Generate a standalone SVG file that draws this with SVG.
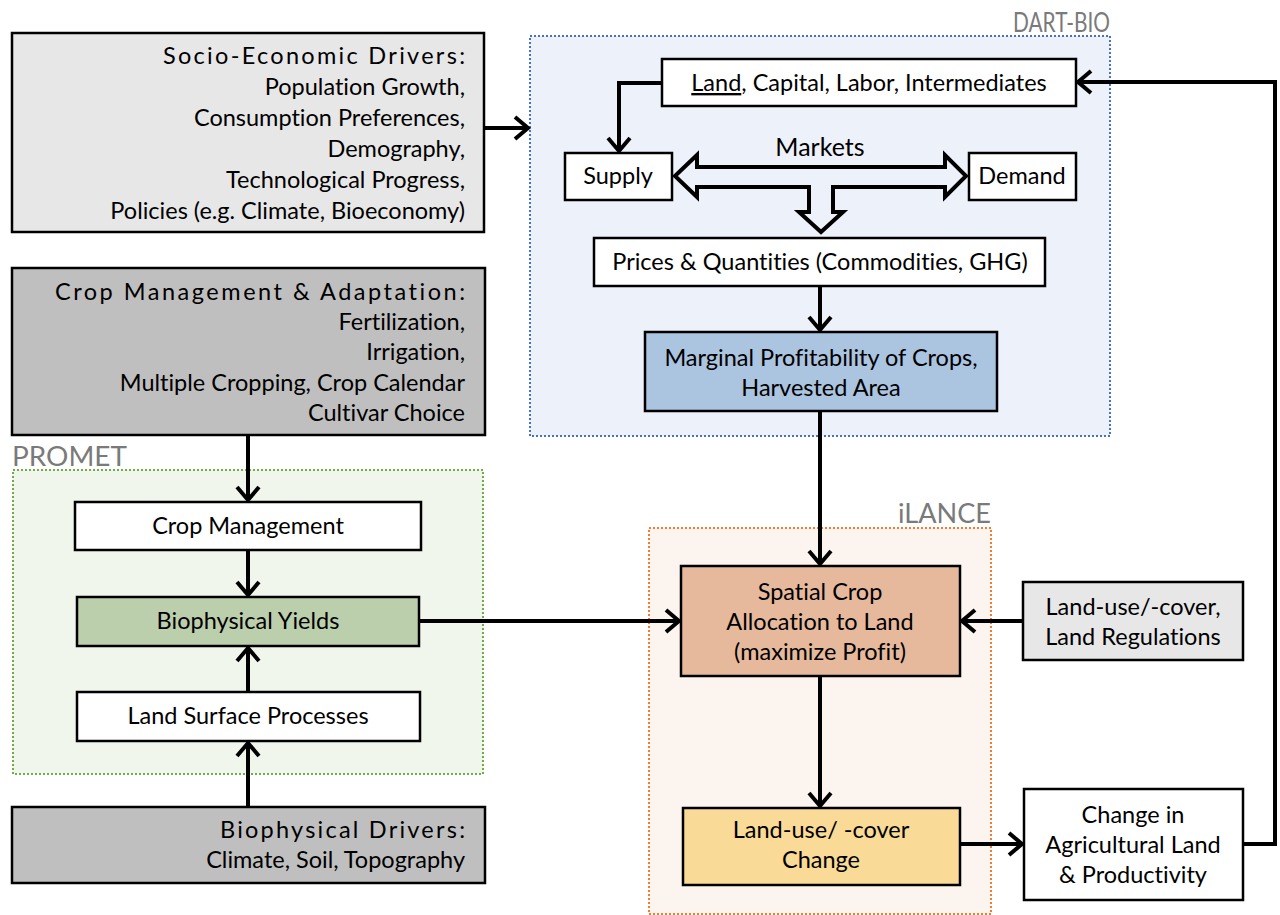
<svg xmlns="http://www.w3.org/2000/svg" width="1280" height="915" viewBox="0 0 1280 915">
<defs>
<style>
text{font-family:Lato,"Liberation Sans",sans-serif;font-size:23.5px;fill:#000;font-variant-ligatures:none;font-feature-settings:"liga" 0,"clig" 0}
.c{text-anchor:middle}
.r{text-anchor:end}
.lbl{font-size:27px;fill:#7a7a7a}
.box{stroke:#000;stroke-width:2.5}
.cont{stroke-width:2;stroke-dasharray:2 2}
.con{fill:none;stroke:#000;stroke-width:4;marker-end:url(#ah)}
</style>
<marker id="ah" markerUnits="userSpaceOnUse" markerWidth="30" markerHeight="30" viewBox="-18 -15 22 30" refX="0" refY="0" orient="auto" overflow="visible">
<path d="M-13,-11 L0,0 L-13,11" fill="none" stroke="#000" stroke-width="4"/>
</marker>
</defs>
<rect width="1280" height="915" fill="#fff"/>

<g id="dartbio">
<rect x="530" y="36" width="580" height="400" fill="#edf1f9" stroke="#4472c4" class="cont"/>
<text class="lbl" x="1013" y="32" textLength="97" lengthAdjust="spacingAndGlyphs">DART-BIO</text>
</g>
<g id="promet">
<rect x="13" y="470" width="470" height="304" fill="#f1f6ed" stroke="#70ad47" class="cont"/>
<text class="lbl" x="12" y="466" textLength="115" lengthAdjust="spacingAndGlyphs">PROMET</text>
</g>
<g id="ilance">
<rect x="649" y="528" width="342" height="386" fill="#fcf4ef" stroke="#ed7d31" class="cont"/>
<text class="lbl" x="898" y="523" textLength="93" lengthAdjust="spacingAndGlyphs">iLANCE</text>
</g>

<g id="socio">
<rect class="box" x="12" y="33" width="472" height="199" fill="#e7e7e7"/>
<text x="163" y="64" textLength="302" lengthAdjust="spacing">Socio-Economic Drivers:</text>
<text class="r" x="465" y="95">Population Growth,</text>
<text class="r" x="465" y="126">Consumption Preferences,</text>
<text class="r" x="465" y="157">Demography,</text>
<text class="r" x="465" y="188">Technological Progress,</text>
<text class="r" x="465" y="219">Policies (e.g. Climate, Bioeconomy)</text>
</g>

<g id="cropadapt">
<rect class="box" x="12" y="268" width="473" height="167" fill="#bfbfbf"/>
<text x="55" y="300" textLength="410" lengthAdjust="spacing">Crop Management &amp; Adaptation:</text>
<text class="r" x="465" y="330">Fertilization,</text>
<text class="r" x="465" y="360">Irrigation,</text>
<text class="r" x="465" y="391">Multiple Cropping, Crop Calendar</text>
<text class="r" x="465" y="421">Cultivar Choice</text>
</g>

<g id="cropmgmt">
<rect class="box" x="75" y="502" width="346" height="48" fill="#fff"/>
<text class="c" x="248" y="534">Crop Management</text>
</g>
<g id="yields">
<rect class="box" x="77" y="597" width="342" height="49" fill="#bccfad"/>
<text class="c" x="248" y="629">Biophysical Yields</text>
</g>
<g id="landsurface">
<rect class="box" x="77" y="692" width="343" height="49" fill="#fff"/>
<text class="c" x="248" y="724">Land Surface Processes</text>
</g>
<g id="biodrivers">
<rect class="box" x="12" y="807" width="473" height="76" fill="#bfbfbf"/>
<text x="220" y="838" textLength="245" lengthAdjust="spacing">Biophysical Drivers:</text>
<text class="r" x="465" y="868">Climate, Soil, Topography</text>
</g>

<g id="factors">
<rect class="box" x="662" y="59" width="414" height="47" fill="#fff"/>
<text class="c" x="869" y="91"><tspan text-decoration="underline">Land</tspan>, Capital, Labor, Intermediates</text>
</g>
<g id="supply">
<rect class="box" x="565" y="153" width="107" height="47" fill="#fff"/>
<text class="c" x="618" y="184">Supply</text>
</g>
<g id="demand">
<rect class="box" x="969" y="153" width="107" height="47" fill="#fff"/>
<text class="c" x="1022" y="184">Demand</text>
</g>
<g id="markets">
<text class="c" x="820" y="156" style="font-size:25px">Markets</text>
<polygon points="675,176 697,155 697,167 945,167 945,155 966,176 945,197 945,187 833,187 833,212 843,212 821,232 799,212 809,212 809,187 697,187 697,197" fill="#edf1f9" stroke="#000" stroke-width="4" stroke-linejoin="miter"/>
</g>
<g id="prices">
<rect class="box" x="594" y="238" width="451" height="48" fill="#fff"/>
<text class="c" x="820" y="270">Prices &amp; Quantities (Commodities, GHG)</text>
</g>
<g id="marginal">
<rect class="box" x="645" y="332" width="352" height="79" fill="#abc4e0"/>
<text class="c" x="821" y="366">Marginal Profitability of Crops,</text>
<text class="c" x="821" y="396">Harvested Area</text>
</g>

<g id="spatial">
<rect class="box" x="681" y="566" width="279" height="110" fill="#e6b99c"/>
<text class="c" x="820" y="600">Spatial Crop</text>
<text class="c" x="820" y="630">Allocation to Land</text>
<text class="c" x="820" y="660">(maximize Profit)</text>
</g>
<g id="landreg">
<rect class="box" x="1023" y="582" width="220" height="78" fill="#e7e7e7"/>
<text class="c" x="1133" y="615">Land-use/-cover,</text>
<text class="c" x="1133" y="645">Land Regulations</text>
</g>
<g id="luc">
<rect class="box" x="683" y="808" width="277" height="77" fill="#f9da96"/>
<text class="c" x="821" y="838">Land-use/ -cover</text>
<text class="c" x="821" y="868">Change</text>
</g>
<g id="change">
<rect class="box" x="1024" y="789" width="219" height="111" fill="#fff"/>
<text class="c" x="1133" y="823">Change in</text>
<text class="c" x="1133" y="853">Agricultural Land</text>
<text class="c" x="1133" y="883">&amp; Productivity</text>
</g>

<g id="connectors">
<path class="con" d="M484,128 H528"/>
<path class="con" d="M662,83 H619 V151"/>
<path class="con" d="M820,286 V330"/>
<path class="con" d="M820,411 V564"/>
<path class="con" d="M248,435 V500"/>
<path class="con" d="M248,550 V595"/>
<path class="con" d="M248,692 V648"/>
<path class="con" d="M248,807 V743"/>
<path class="con" d="M419,621 H679"/>
<path class="con" d="M1023,621 H962"/>
<path class="con" d="M820,676 V806"/>
<path class="con" d="M960,844 H1022"/>
<path class="con" d="M1243,844 H1275 V82 H1078"/>
</g>
</svg>
